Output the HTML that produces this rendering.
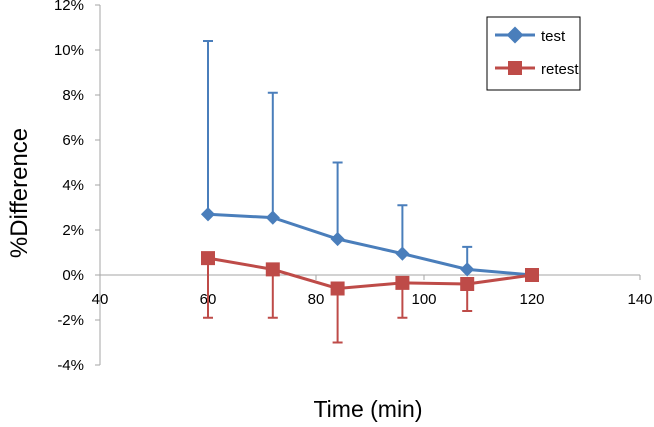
<!DOCTYPE html>
<html><head><meta charset="utf-8"><style>
body{margin:0;background:#fff;}
svg text{font-family:"Liberation Sans",Arial,sans-serif;fill:#000;}
</style></head><body>
<svg width="654" height="422" id="c">
<rect x="487" y="17" width="93" height="73" fill="#fff" stroke="#000" stroke-width="1"/>
<line x1="495" y1="35" x2="535" y2="35" stroke="#4a7ebb" stroke-width="3"/>
<rect x="509" y="29" width="12" height="12" fill="#4a7ebb" transform="rotate(45 515 35)"/>
<text x="541" y="41" font-size="15">test</text>
<line x1="495" y1="68" x2="535" y2="68" stroke="#be4b48" stroke-width="3"/>
<rect x="508" y="61" width="14" height="14" fill="#be4b48"/>
<text x="541" y="74" font-size="15">retest</text>
<text x="368" y="417" font-size="23" text-anchor="middle">Time (min)</text>
<text transform="translate(27 193) rotate(-90)" font-size="24" text-anchor="middle">%Difference</text>
</svg>
<script>
const xTicks=[40,60,80,100,120,140];
const yTicks=[-4,-2,0,2,4,6,8,10,12];
const times=[60,72,84,96,108,120];
const testVals=[2.7,2.55,1.6,0.95,0.25,0];
const testUpper=[10.4,8.1,5.0,3.1,1.25,0];
const retestVals=[0.75,0.25,-0.6,-0.35,-0.4,0];
const retestLower=[-1.9,-1.9,-3.0,-1.9,-1.6,0];
const svg=document.getElementById('c');
const NS='http://www.w3.org/2000/svg';
const X=v=>100+(v-40)*(540/100);
const Y=v=>275-v*22.5;
function mk(t,a,p){const e=document.createElementNS(NS,t);for(const k in a)e.setAttribute(k,a[k]);(p||svg).appendChild(e);return e;}
let e;
e=mk('line',{x1:100,y1:Y(12),x2:100,y2:Y(-4),stroke:'#a6a6a6'});


e=mk('line',{x1:100,y1:Y(0),x2:X(140),y2:Y(0),stroke:'#a6a6a6'});


yTicks.forEach(v=>{
 mk('line',{x1:95,y1:Y(v),x2:100,y2:Y(v),stroke:'#a6a6a6'});
 e=mk('text',{x:84,y:Y(v)+5,'font-size':15,'text-anchor':'end'});e.textContent=v+'%';
 
 
});
xTicks.forEach(v=>{
 mk('line',{x1:X(v),y1:Y(0),x2:X(v),y2:Y(0)+5,stroke:'#a6a6a6'});
 e=mk('text',{x:X(v),y:304,'font-size':15,'text-anchor':'middle'});e.textContent=v;
 
 
});
times.forEach((t,i)=>{
 if(testUpper[i]!==testVals[i]){
 e=mk('line',{x1:X(t),y1:Y(testVals[i]),x2:X(t),y2:Y(testUpper[i]),stroke:'#4a7ebb','stroke-width':2});
 
 
 mk('line',{x1:X(t)-5,y1:Y(testUpper[i]),x2:X(t)+5,y2:Y(testUpper[i]),stroke:'#4a7ebb','stroke-width':2});}
 if(retestLower[i]!==retestVals[i]){
 e=mk('line',{x1:X(t),y1:Y(retestVals[i]),x2:X(t),y2:Y(retestLower[i]),stroke:'#be4b48','stroke-width':2});
 
 
 mk('line',{x1:X(t)-5,y1:Y(retestLower[i]),x2:X(t)+5,y2:Y(retestLower[i]),stroke:'#be4b48','stroke-width':2});}
});
e=mk('polyline',{points:times.map((t,i)=>X(t)+','+Y(testVals[i])).join(' '),fill:'none',stroke:'#4a7ebb','stroke-width':3});


e=mk('polyline',{points:times.map((t,i)=>X(t)+','+Y(retestVals[i])).join(' '),fill:'none',stroke:'#be4b48','stroke-width':3});


times.forEach((t,i)=>{
 e=mk('rect',{x:X(t)-5,y:Y(testVals[i])-5,width:10,height:10,fill:'#4a7ebb',transform:`rotate(45 ${X(t)} ${Y(testVals[i])})`});
 
 
 e=mk('rect',{x:X(t)-7,y:Y(retestVals[i])-7,width:14,height:14,fill:'#be4b48'});
 
 
});
</script>
</body></html>
